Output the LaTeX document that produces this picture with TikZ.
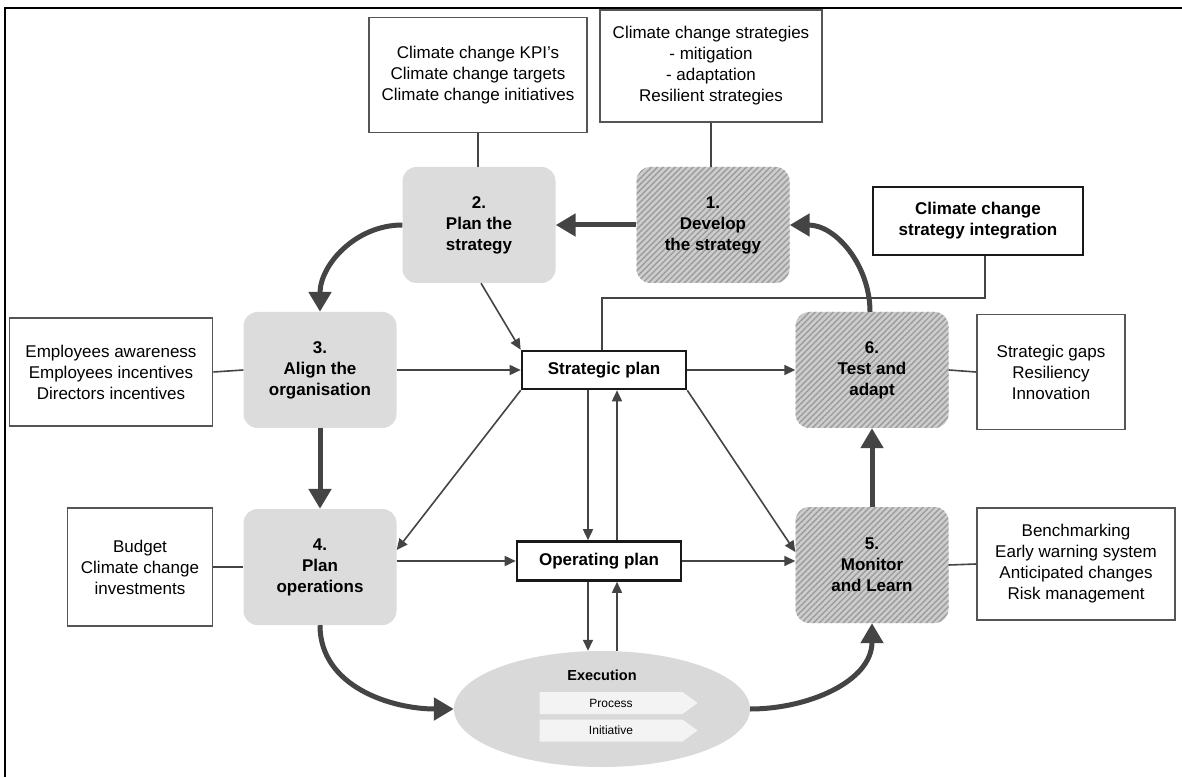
\documentclass[tikz,border=0pt]{standalone}
\usepackage{fontspec}
\setmainfont{Liberation Sans}
\usetikzlibrary{arrows.meta,patterns.meta,shapes.geometric,shapes.symbols}

\definecolor{ink}{HTML}{444444}
\definecolor{boxline}{HTML}{555555}
\definecolor{stagefill}{HTML}{DCDCDC}
\definecolor{hatchbg}{HTML}{CDCDCD}
\definecolor{hatchline}{HTML}{9C9C9C}
\definecolor{execfill}{HTML}{D9D9D9}
\definecolor{chevfill}{HTML}{F3F3F3}

\newcommand\bodytxt{\fontsize{17}{21}\selectfont}
\newcommand\smalltxt{\fontsize{12}{14}\selectfont}
\newcommand\exectxt{\fontsize{14.5}{17}\selectfont}

\begin{document}
\begin{tikzpicture}[x=1pt,y=1pt,
  box/.style={draw=boxline, line width=1.8pt, fill=white, align=center, font=\bodytxt, inner sep=0pt},
  planbox/.style={draw=black!90, line width=2.6pt, fill=white, align=center, font=\bodytxt\bfseries, inner sep=0pt},
  stage/.style={rounded corners=14pt, minimum width=153pt, minimum height=116pt, align=center, font=\bodytxt\bfseries, inner sep=0pt},
  solidstage/.style={stage, fill=stagefill},
  hatchstage/.style={stage, fill=hatchbg, postaction={pattern={Lines[angle=45,distance=4.2pt,line width=1.4pt]}, pattern color=hatchline}},
  link/.style={draw=ink, line width=1.6pt},
  flow/.style={link, -{Triangle[length=11pt,width=10pt]}},
  bigarrow/.style={draw=ink, line width=5pt, -{Triangle[length=20pt,width=22pt]}},
]
\fill[white] (0,0) rectangle (1182,777);
\useasboundingbox (0,0) rectangle (1182,777);

% frame
\draw[line width=2.2pt] (5,0) -- (5,769) -- (1182,769);

% stages of the cycle
\node[hatchstage] (n1) at (713,552) {1.\\Develop\\the strategy};
\node[solidstage] (n2) at (479,552) {2.\\Plan the\\strategy};
\node[solidstage] (n3) at (320,407) {3.\\Align the\\organisation};
\node[solidstage] (n4) at (320,210) {4.\\Plan\\operations};
\node[hatchstage] (n5) at (872,212) {5.\\Monitor\\and Learn};
\node[hatchstage] (n6) at (872,407) {6.\\Test and\\adapt};

% plans
\node[planbox, minimum width=164pt, minimum height=38pt] (sp) at (604,407) {Strategic plan};
\node[planbox, minimum width=164pt, minimum height=39pt] (op) at (599,216) {Operating plan};

% execution
\node[ellipse, fill=execfill, minimum width=296pt, minimum height=116pt, inner sep=0pt] (exec) at (602,68) {};
\node[font=\exectxt\bfseries] (exlabel) at (602,102) {Execution};
\node[signal, signal to=east, signal pointer angle=72, fill=chevfill, minimum width=158pt, minimum height=22pt, inner sep=0pt, font=\smalltxt] (proc) at (611,74) {Process};
\node[signal, signal to=east, signal pointer angle=72, fill=chevfill, minimum width=158pt, minimum height=22pt, inner sep=0pt, font=\smalltxt] (init) at (611,46.5) {Initiative};

% side notes
\node[box, minimum width=218pt, minimum height=115pt] (kpi) at (478,702) {Climate change KPI's\\Climate change targets\\Climate change initiatives};
\node[box, minimum width=222pt, minimum height=112pt] (strat) at (711,711) {Climate change strategies\\- mitigation\\- adaptation\\Resilient strategies};
\node[planbox, line width=2.4pt, minimum width=210pt, minimum height=68pt] (integ) at (978,556) {Climate change\\strategy integration};
\node[box, minimum width=203pt, minimum height=108pt] (emp) at (111,405) {Employees awareness\\Employees incentives\\Directors incentives};
\node[box, minimum width=145pt, minimum height=118pt] (budget) at (140,210) {Budget\\Climate change\\investments};
\node[box, minimum width=148pt, minimum height=115pt] (gaps) at (1051,405) {Strategic gaps\\Resiliency\\Innovation};
\node[box, minimum width=198pt, minimum height=112pt] (bench) at (1076,213) {Benchmarking\\Early warning system\\Anticipated changes\\Risk management};

% note connectors
\draw[link] (kpi.south) -- (n2.north -| kpi.south);
\draw[link] (strat.south) -- (n1.north -| strat.south);
\draw[link] (emp.east) -- (n3.west);
\draw[link] (budget.east) -- (n4.west);
\draw[link] (gaps.west) -- (n6.east);
\draw[link] (bench.west) -- (n5.east);
\coordinate (bend) at (602,479);
\draw[link] ([xshift=7pt]integ.south) |- (bend) -- (bend |- sp.north);

% main cycle
\draw[bigarrow] (n1.west) -- (n2.east);
\draw[bigarrow] (n2.west) to[out=180,in=90] (n3.north);
\draw[bigarrow] (n3.south) -- (n4.north);
\draw[bigarrow] (n4.south) to[out=-90,in=180] (exec.west);
\draw[bigarrow] (exec.east) to[out=0,in=-90] (n5.south);
\draw[bigarrow] (n5.north) -- (n6.south);
\draw[bigarrow] ([xshift=-2pt]n6.north) to[out=90,in=0] (n1.east);

% plan links
\draw[flow] ([xshift=2pt]n2.south) -- (sp.north west);
\draw[flow] (n3.east) -- (sp.west);
\draw[flow] (sp.south west) -- ([yshift=17pt]n4.east);
\draw[flow] (n4.east |- op.west) -- (op.west);
\draw[flow] (sp.east) -- (n6.west);
\draw[flow] (sp.south east) -- ([yshift=13pt]n5.west);
\draw[flow] (op.east) -- (n5.west |- op.east);
\draw[flow] ([xshift=-16pt]sp.south) -- ([xshift=-11pt]op.north);
\draw[flow] ([xshift=18pt]op.north) -- ([xshift=13pt]sp.south);
\draw[flow] ([xshift=-11pt]op.south) -- ([xshift=-14pt]exec.north);
\draw[flow] ([xshift=15pt]exec.north) -- ([xshift=18pt]op.south);
\end{tikzpicture}
\end{document}
